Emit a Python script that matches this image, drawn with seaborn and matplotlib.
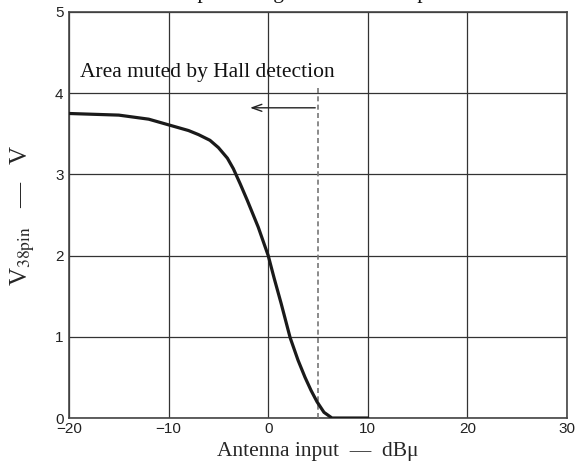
import seaborn as sns
import matplotlib.pyplot as plt
import pandas as pd

# curve
antenna_input = [-20, -15, -12, -10, -8, -7, -5.85, -5, -4.1, -3.5, -2.8, -2.1, -1, 0,
                 0.6, 1.3, 2.2, 3.0, 3.7, 4.3, 4.9, 5.6, 6.4, 8, 10]
v38pin = [3.75, 3.73, 3.68, 3.61, 3.54, 3.49, 3.42, 3.33, 3.2, 3.07, 2.88, 2.68, 2.35, 2.0,
          1.72, 1.41, 0.99, 0.71, 0.5, 0.34, 0.2, 0.07, 0.0, 0.0, 0.0]

x_ticks = [-20, -10, 0, 10, 20, 30]
y_ticks = [0, 1, 2, 3, 4, 5]
hall_limit = 5
arrow_end = -2.1
arrow_y = 3.82

df = pd.DataFrame({"Antenna input": antenna_input, "V38pin": v38pin})

sns.set_style("white")
plt.rcParams["font.family"] = ["Liberation Sans", "DejaVu Sans"]
plt.rcParams["mathtext.fontset"] = "stix"

fig = plt.figure(figsize=(5.77, 4.68), dpi=100)
ax = fig.add_axes([0.1196, 0.1068, 0.8631, 0.8676])

sns.lineplot(data=df, x="Antenna input", y="V38pin", ax=ax, color="#1a1a1a",
             linewidth=2.3, zorder=5)

ax.set_xlim(-20, 30)
ax.set_ylim(0, 5)
ax.set_xticks(x_ticks)
ax.set_yticks(y_ticks)
ax.grid(True, color="#333333", linewidth=0.9)
for s in ax.spines.values():
    s.set_color("#444444")
    s.set_linewidth(1.2)
ax.tick_params(axis="x", length=0, pad=3, labelsize=11, colors="#222222")
ax.tick_params(axis="y", length=0, pad=4, labelsize=11, colors="#222222")

serif = ["Liberation Serif", "DejaVu Serif"]
ax.set_xlabel("Antenna input  —  dBμ", family=serif, fontsize=15.5, labelpad=4)
ax.set_ylabel(r"V$_{\mathrm{38pin}}$   —   V", family=serif, fontsize=18, labelpad=13)

# Hall detection boundary and arrow
ax.plot([hall_limit, hall_limit], [0, 4.08], color="#777777", linestyle=(0, (3, 2)),
        linewidth=1.2, zorder=4)
ax.annotate("", xy=(arrow_end, arrow_y), xytext=(hall_limit, arrow_y),
            arrowprops=dict(arrowstyle="->,head_length=0.7,head_width=0.25",
                            color="#222222", linewidth=1))
ax.text(-18.9, 4.26, "Area muted by Hall detection", family=serif, fontsize=15.5,
        va="center", ha="left", color="#111111")

# title cut off at the top of the picture
fig.text(0.62, 1.005, "Mute output voltage vs. antenna input with Hall muting",
         family=serif, fontsize=15.5, ha="center", va="baseline", color="#111111")

fig.savefig("out.png", dpi=100)
